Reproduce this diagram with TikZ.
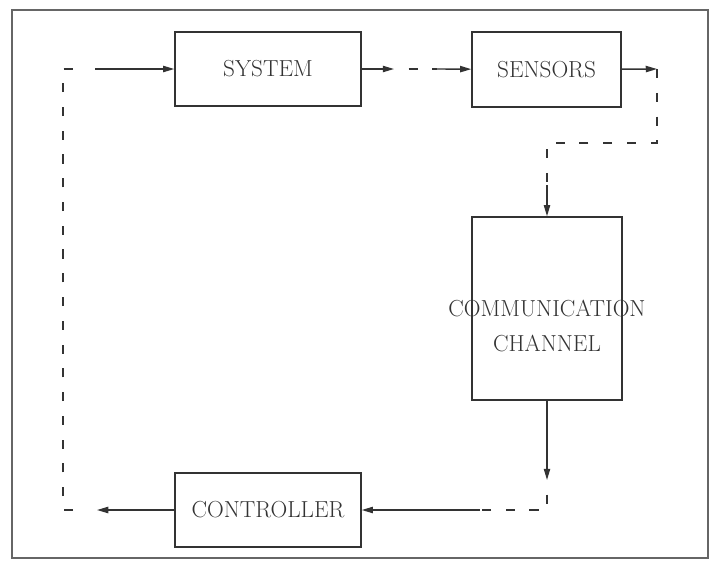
\documentclass[tikz,border=0pt]{standalone}
\usetikzlibrary{arrows.meta}
\tikzset{
    box/.style={draw, line width=1pt, inner sep=0pt, align=center},
    flow/.style={-{Triangle[length=8pt,width=4.5pt]}, line width=1pt},
    channel/.style={line width=1pt, dash pattern=on 6.5pt off 10.4pt},
    gapfirst/.style={channel, dash phase=6.5pt},
}
\begin{document}
\begin{tikzpicture}[x=0.025cm, y=-0.025cm, font=\fontsize{16.5}{25}\selectfont,
                    color=black!80]
    \path[use as bounding box] (0,0) rectangle (711,562);
    \draw[line width=0.8pt, black!60] (12,10) rectangle (708,558);

    % blocks
    \node[box, minimum width=4.65cm, minimum height=1.85cm] (system) at (268,69) {SYSTEM};
    \node[box, minimum width=3.725cm, minimum height=1.875cm] (sensors) at (546.5,69.5) {SENSORS};
    \node[box, minimum width=3.75cm, minimum height=4.575cm] (comm) at (547,308.5) {};
    \node[align=center] (commlabel) at (547,326) {COMMUNICATION\\CHANNEL};
    \node[box, minimum width=4.65cm, minimum height=1.85cm] (controller) at (268,510) {CONTROLLER};

    % turning points of the loop
    \coordinate (sysout) at (394,69);
    \coordinate (sensin) at (437,69);
    \coordinate (sensout) at (657,69);
    \coordinate (senscorner) at (657,143);
    \coordinate (commcorner) at (547,143);
    \coordinate (commin) at (547,185);
    \coordinate (commout) at (547,480);
    \coordinate (ctrlcorner) at (547,510);
    \coordinate (ctrlin) at (480,510);
    \coordinate (loopout) at (97,510);
    \coordinate (lowstub) at (73,510);
    \coordinate (loopbottom) at (63,510);
    \coordinate (looptop) at (63,69);
    \coordinate (topstub) at (73,69);
    \coordinate (loopin) at (95,69);

    \draw[flow] (system) -- (sysout);
    \draw[gapfirst] (sysout) -- (sensin);
    \draw[flow] (sensin) -- (sensors);

    \draw[flow] (sensors) -- (sensout);
    \draw[channel] (sensout) -- (senscorner) -- (commcorner) -- (commin);
    \draw[flow] (commin) -- (comm);

    \draw[flow] (comm) -- (commout);
    \draw[gapfirst] (commout) -- (ctrlcorner) -- (ctrlin);
    \draw[flow] (ctrlin) -- (controller);

    \draw[flow] (controller) -- (loopout);
    \draw[channel] (lowstub) -- (loopbottom) -- (looptop) -- (topstub);
    \draw[flow] (loopin) -- (system);
\end{tikzpicture}
\end{document}
